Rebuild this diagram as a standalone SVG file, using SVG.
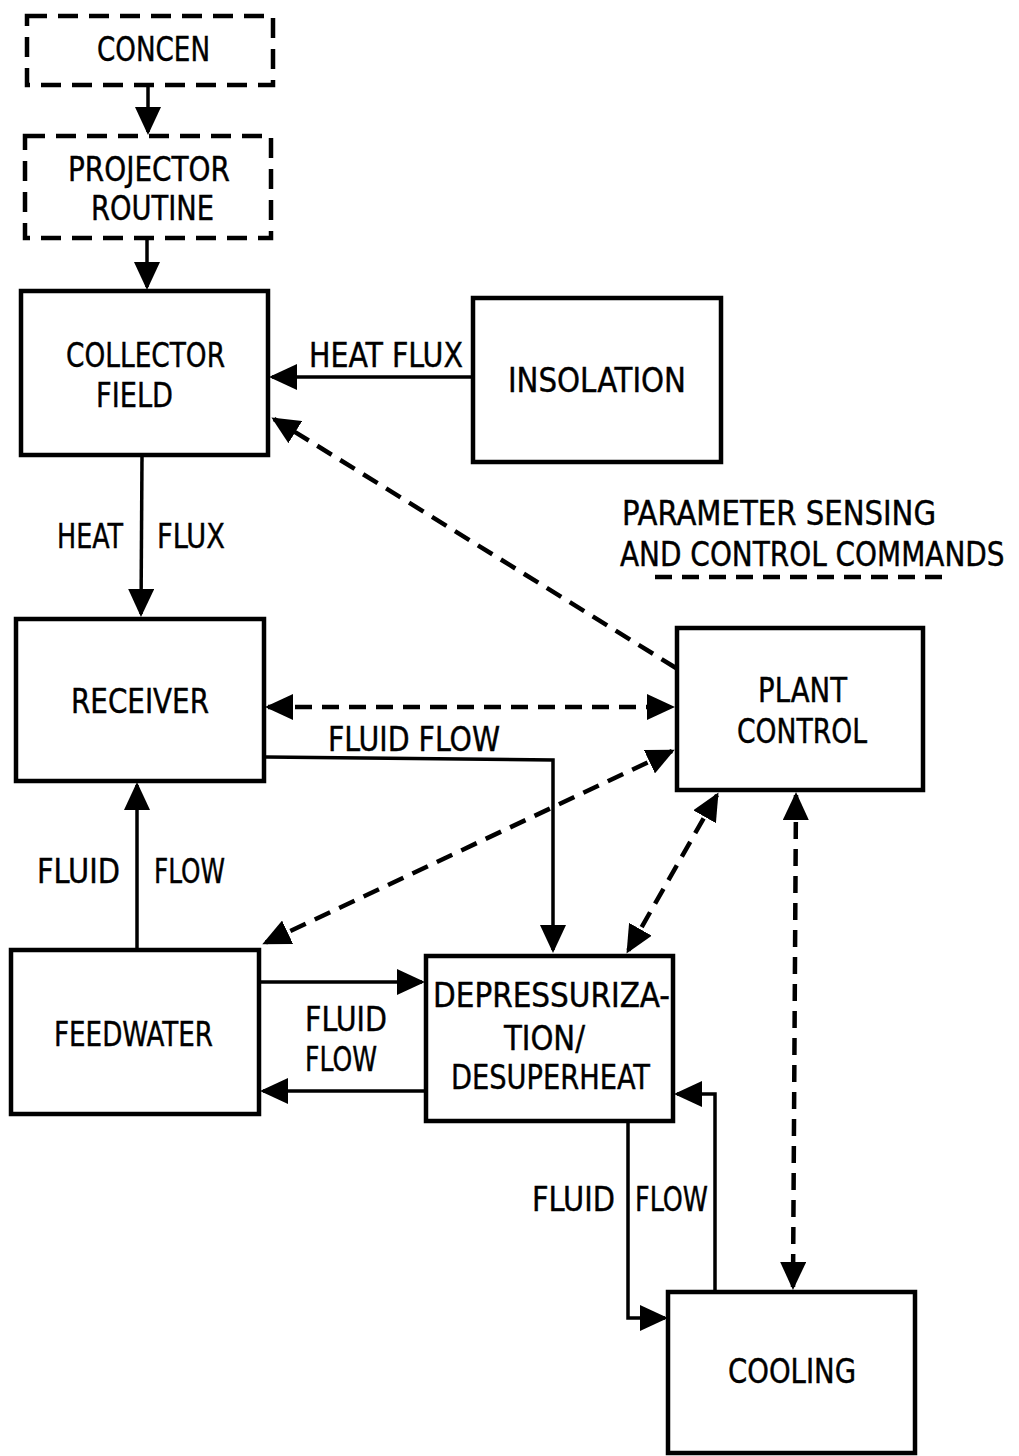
<svg xmlns="http://www.w3.org/2000/svg" width="1019" height="1456" viewBox="0 0 1019 1456">
<style>
.box{fill:#fff;stroke:#000;stroke-width:4.5}
.dbox{fill:#fff;stroke:#000;stroke-width:4.5;stroke-dasharray:20 11}
.ln{fill:none;stroke:#000;stroke-width:3.5}
.dl{fill:none;stroke:#000;stroke-width:4.5;stroke-dasharray:17 10}
text{font-family:"Liberation Sans Narrow","DejaVu Sans Condensed","Liberation Sans",sans-serif;font-size:33px;fill:#000;stroke:#000;stroke-width:0.4}
</style>
<defs>
<marker id="ah" viewBox="0 0 28 26" refX="25" refY="13" markerWidth="28" markerHeight="26" markerUnits="userSpaceOnUse" orient="auto-start-reverse">
<path d="M0,0 L28,13 L0,26 z" fill="#000"/>
</marker>
</defs>
<rect width="1019" height="1456" fill="#fff"/>
<g id="connectors">
<line class="ln" x1="148" y1="86" x2="148" y2="132" marker-end="url(#ah)"/>
<line class="ln" x1="147" y1="239" x2="147" y2="287" marker-end="url(#ah)"/>
<line class="ln" x1="472" y1="377" x2="272" y2="377" marker-end="url(#ah)"/>
<line class="ln" x1="142" y1="457" x2="141" y2="614" marker-end="url(#ah)"/>
<line class="dl" x1="676" y1="668" x2="274" y2="419" marker-end="url(#ah)"/>
<line class="dl" x1="268" y1="707" x2="672" y2="707" marker-start="url(#ah)" marker-end="url(#ah)"/>
<path class="ln" d="M266,757 L553,760 L553,950" marker-end="url(#ah)"/>
<line class="ln" x1="137" y1="948" x2="137" y2="785" marker-end="url(#ah)"/>
<line class="dl" x1="672" y1="751" x2="265" y2="943" marker-start="url(#ah)" marker-end="url(#ah)"/>
<line class="dl" x1="717" y1="795" x2="628" y2="951" marker-start="url(#ah)" marker-end="url(#ah)"/>
<line class="dl" x1="796" y1="795" x2="793" y2="1287" marker-start="url(#ah)" marker-end="url(#ah)"/>
<line class="ln" x1="260" y1="982" x2="422" y2="982" marker-end="url(#ah)"/>
<line class="ln" x1="425" y1="1091" x2="263" y2="1091" marker-end="url(#ah)"/>
<path class="ln" d="M628,1122 L628,1318 L665,1318" marker-end="url(#ah)"/>
<path class="ln" d="M715,1290 L715,1094 L677,1094" marker-end="url(#ah)"/>
</g>
<g id="concen">
<rect class="dbox" x="27" y="16" width="246" height="69"/>
<text x="97" y="61" textLength="113" lengthAdjust="spacingAndGlyphs">CONCEN</text>
</g>
<g id="projector">
<rect class="dbox" x="25" y="136" width="246" height="102"/>
<text x="68" y="181" textLength="162" lengthAdjust="spacingAndGlyphs">PROJECTOR</text>
<text x="91" y="220" textLength="123" lengthAdjust="spacingAndGlyphs">ROUTINE</text>
</g>
<g id="collector">
<rect class="box" x="21" y="291" width="247" height="164"/>
<text x="66" y="367" textLength="159" lengthAdjust="spacingAndGlyphs">COLLECTOR</text>
<text x="96" y="407" textLength="77" lengthAdjust="spacingAndGlyphs">FIELD</text>
</g>
<g id="insolation">
<rect class="box" x="473" y="298" width="248" height="164"/>
<text x="508" y="392" textLength="178" lengthAdjust="spacingAndGlyphs">INSOLATION</text>
</g>
<g id="receiver">
<rect class="box" x="16" y="619" width="248" height="162"/>
<text x="71" y="713" textLength="138" lengthAdjust="spacingAndGlyphs">RECEIVER</text>
</g>
<g id="plant-control">
<rect class="box" x="677" y="628" width="246" height="162"/>
<text x="758" y="702" textLength="89" lengthAdjust="spacingAndGlyphs">PLANT</text>
<text x="737" y="743" textLength="130" lengthAdjust="spacingAndGlyphs">CONTROL</text>
</g>
<g id="feedwater">
<rect class="box" x="11" y="950" width="248" height="164"/>
<text x="54" y="1046" textLength="159" lengthAdjust="spacingAndGlyphs">FEEDWATER</text>
</g>
<g id="depressurization">
<rect class="box" x="426" y="956" width="247" height="165"/>
<text x="433" y="1007" textLength="237" lengthAdjust="spacingAndGlyphs">DEPRESSURIZA-</text>
<text x="504" y="1050" textLength="81" lengthAdjust="spacingAndGlyphs">TION/</text>
<text x="451" y="1089" textLength="199" lengthAdjust="spacingAndGlyphs">DESUPERHEAT</text>
</g>
<g id="cooling">
<rect class="box" x="668" y="1292" width="247" height="161"/>
<text x="728" y="1383" textLength="128" lengthAdjust="spacingAndGlyphs">COOLING</text>
</g>
<g id="labels">
<text x="309" y="367" textLength="154" lengthAdjust="spacingAndGlyphs">HEAT FLUX</text>
<text x="57" y="548" textLength="66" lengthAdjust="spacingAndGlyphs">HEAT</text>
<text x="157" y="548" textLength="68" lengthAdjust="spacingAndGlyphs">FLUX</text>
<text x="328" y="751" textLength="172" lengthAdjust="spacingAndGlyphs">FLUID FLOW</text>
<text x="37" y="883" textLength="83" lengthAdjust="spacingAndGlyphs">FLUID</text>
<text x="154" y="883" textLength="71" lengthAdjust="spacingAndGlyphs">FLOW</text>
<text x="305" y="1031" textLength="82" lengthAdjust="spacingAndGlyphs">FLUID</text>
<text x="305" y="1071" textLength="72" lengthAdjust="spacingAndGlyphs">FLOW</text>
<text x="532" y="1211" textLength="83" lengthAdjust="spacingAndGlyphs">FLUID</text>
<text x="635" y="1211" textLength="73" lengthAdjust="spacingAndGlyphs">FLOW</text>
</g>
<g id="legend">
<text x="622" y="525" textLength="314" lengthAdjust="spacingAndGlyphs">PARAMETER SENSING</text>
<text transform="translate(620,566) scale(0.92,1)" x="0" y="0" textLength="418" lengthAdjust="spacingAndGlyphs">AND CONTROL COMMANDS</text>
<line class="dl" x1="655" y1="577" x2="948" y2="577"/>
</g>
</svg>
